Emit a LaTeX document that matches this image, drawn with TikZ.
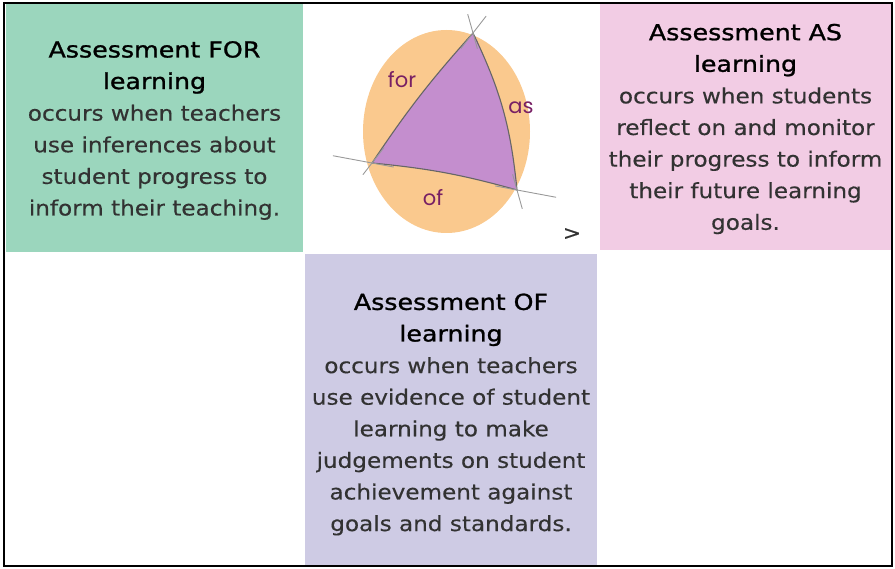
\documentclass[tikz,border=0pt]{standalone}
\definecolor{forgreen}{RGB}{155, 214, 189}
\definecolor{aspink}{RGB}{242, 204, 228}
\definecolor{oflilac}{RGB}{206, 203, 228}
\definecolor{discorange}{RGB}{250, 201, 142}
\definecolor{triviolet}{RGB}{196, 142, 206}
\definecolor{tagplum}{RGB}{120, 32, 100}
\definecolor{bodygray}{RGB}{50, 50, 50}
\usepackage{fontspec}
\setmainfont{DejaVu Sans}[FakeStretch=1.1, FakeBold=0.3]
\newfontfamily\headfont{DejaVu Sans}[FakeStretch=1.15, FakeBold=1.1]
\newfontfamily\tagfont{Poppins}
\newcommand{\boxhead}[1]{{\headfont\fontsize{22}{31.6}\selectfont\color{black}#1}}
\usepackage{tikz}
\usetikzlibrary{shapes.geometric, positioning, calc}

\begin{document}
\begin{tikzpicture}[x=1pt, y=-1pt,
  infobox/.style={rectangle, inner sep=0pt, align=center, text=bodygray,
    font=\fontsize{21}{31.6}\selectfont},
  tag/.style={text=tagplum, font=\tagfont\fontsize{21}{24}\selectfont},
  edgeline/.style={draw=black!60, line width=1.1pt},
  crossline/.style={draw=gray!80, line width=0.9pt}]
  \useasboundingbox (0,0) rectangle (895,569);

  % Assessment FOR learning
  \node[infobox, fill=forgreen, minimum width=297pt, minimum height=248pt] (forbox) at (154.5,128) {};
  \node[infobox] (fortext) at (154.5,130.5) {
    \boxhead{Assessment FOR}\\
    \boxhead{learning}\\
    occurs when teachers\\
    use inferences about\\
    student progress to\\
    inform their teaching.
  };

  % Assessment AS learning
  \node[infobox, fill=aspink, minimum width=291pt, minimum height=246pt] (asbox) at (745.5,127.5) {};
  \node[infobox] (astext) at (745.5,129) {
    \boxhead{Assessment AS}\\
    \boxhead{learning}\\
    occurs when students\\
    reflect on and monitor\\
    their progress to inform\\
    their future learning\\
    goals.
  };

  % Assessment OF learning
  \node[infobox, fill=oflilac, minimum width=292pt, minimum height=312pt] (ofbox) at (451,410) {};
  \node[infobox] (oftext) at (451,414.5) {
    \boxhead{Assessment OF}\\
    \boxhead{learning}\\
    occurs when teachers\\
    use evidence of student\\
    learning to make\\
    judgements on student\\
    achievement against\\
    goals and standards.
  };

  % disc and triangle
  \node[ellipse, fill=discorange, inner sep=0pt, minimum width=167pt, minimum height=203pt] (disc) at (446.5,131.5) {};
  \coordinate (top) at (473,33);
  \coordinate (left) at (372,163);
  \coordinate (right) at (517,190);
  \fill[triviolet] (left) to[bend left=4] (top) to[bend left=10] (right) to[bend right=5] (left);
  \draw[edgeline] (left) to[bend left=4] (top) to[bend left=10] (right) to[bend right=5] (left);

  % crossing strokes at the corners
  \draw[crossline] ($(top)!-0.13!(left)$) -- ($(top)!0.12!(left)$);
  \draw[crossline] ($(top)!-0.12!(right)$) -- ($(top)!0.1!(right)$);
  \draw[crossline] ($(left)!-0.09!(top)$) -- ($(left)!0.12!(top)$);
  \draw[crossline] ($(left)!-0.27!(right)$) -- ($(left)!0.15!(right)$);
  \draw[crossline] ($(right)!-0.27!(left)$) -- ($(right)!0.15!(left)$);
  \draw[crossline] ($(right)!-0.12!(top)$) -- ($(right)!0.1!(top)$);

  \node[tag] (fortag) at (402,80) {for};
  \node[tag] (astag) at (521,108) {as};
  \node[tag] (oftag) at (433,198) {of};
  \node[text=black!80, font=\fontsize{20}{22}\selectfont] (more) at (572,234) {>};

  % outer frame
  \draw[line width=1.8pt] (4,3) rectangle (892,566);
\end{tikzpicture}
\end{document}
